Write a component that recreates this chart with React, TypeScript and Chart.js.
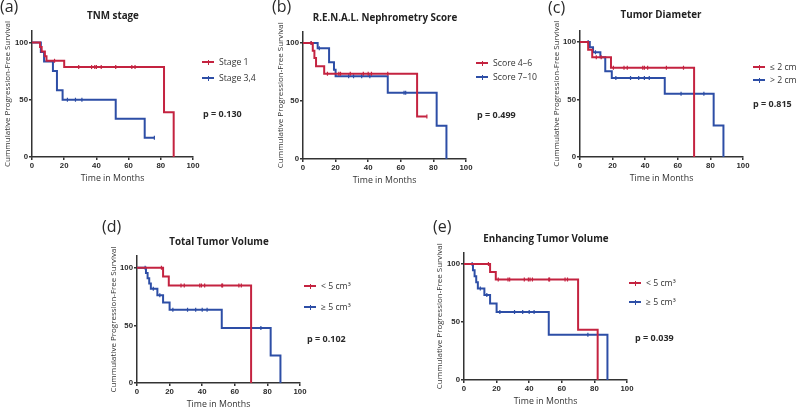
import React, { useEffect, useRef } from "react";
import { Chart, registerables } from "chart.js";
Chart.register(...registerables);

const RED = "#c42340";
const BLUE = "#2d4ea6";
const INK = "#2a2a2a";
const FONT = "'Open Sans', Lato, sans-serif";
const TICK_FONT = "'Liberation Sans', Arial, sans-serif";

const X_TITLE = "Time in Months";
const Y_TITLE = "Cummulative Progression-Free Survival";
const X_TICK_STEP = 20;
const Y_TICK_STEP = 50;

// ---------- (a) TNM stage ----------
const aStage1Time = [0, 5, 6, 8, 9, 14, 20, 29, 37, 39, 40, 43, 52, 62, 64, 82, 88];
const aStage1Surv = [100, 96, 92, 88, 84, 84, 78.5, 78.5, 78.5, 78.5, 78.5, 78.5, 78.5, 78.5, 78.5, 39, 0];
const aStage1Cens = [0, 0, 0, 0, 0, 1, 0, 1, 1, 1, 1, 1, 1, 1, 1, 0, 0];
const aStage34Time = [0, 5.5, 7.5, 13, 15.5, 19, 22, 27, 31, 52, 70, 76];
const aStage34Surv = [100, 91.7, 83.3, 75, 58.3, 50, 50, 50, 50, 33.3, 16.7, 16.7];
const aStage34Cens = [0, 0, 0, 0, 0, 0, 1, 1, 1, 0, 0, 1];

// ---------- (b) R.E.N.A.L. ----------
const bLowTime = [0, 5, 6, 7, 8, 13, 15, 22, 23, 29, 37, 40, 42, 52, 70, 76];
const bLowSurv = [100, 100, 93.4, 87.1, 80, 73.5, 73.5, 73.5, 73.5, 73.5, 73.5, 73.5, 73.5, 73.5, 36.7, 36.7];
const bLowCens = [0, 1, 0, 0, 0, 0, 1, 1, 1, 1, 1, 1, 1, 1, 0, 1];
const bHighTime = [0, 5, 9, 10, 16, 19, 20, 28, 31, 36, 41, 52, 62, 63, 82, 88];
const bHighSurv = [100, 100, 95.5, 95.5, 83.3, 77, 71.4, 71.4, 71.4, 71.4, 71.4, 57.1, 57.1, 57.1, 28.6, 0];
const bHighCens = [0, 1, 0, 1, 0, 0, 0, 1, 1, 1, 1, 0, 1, 1, 0, 0];

// ---------- (c) Tumor Diameter ----------
const cSmallTime = [0, 5, 7.5, 10, 13, 19, 20.5, 27, 29, 38.5, 39.5, 41.5, 53, 63.5, 70];
const cSmallSurv = [100, 93.3, 86.7, 86.7, 86.7, 77.7, 77.7, 77.7, 77.7, 77.7, 77.7, 77.7, 77.7, 77.7, 0];
const cSmallCens = [0, 0, 0, 1, 1, 0, 1, 1, 1, 1, 1, 1, 1, 1, 0];
const cLargeTime = [0, 5, 6, 8, 9.5, 12.5, 15.5, 19.5, 22, 31, 36, 39.5, 42.5, 52, 62, 76, 82, 88];
const cLargeSurv = [100, 100, 95.5, 91, 91, 86.7, 74.5, 68.7, 68.7, 68.7, 68.7, 68.7, 68.7, 55, 55, 55, 27.5, 0];
const cLargeCens = [0, 1, 0, 0, 1, 0, 0, 0, 1, 1, 1, 1, 1, 0, 1, 1, 0, 0];

// ---------- (d) Total Tumor Volume ----------
const dSmallTime = [0, 15, 16, 19.5, 27, 29, 38.5, 39.5, 41.5, 52, 52.5, 62.5, 64, 70];
const dSmallSurv = [100, 100, 92.3, 84.6, 84.6, 84.6, 84.6, 84.6, 84.6, 84.6, 84.6, 84.6, 84.6, 0];
const dSmallCens = [0, 1, 0, 0, 1, 1, 1, 1, 1, 1, 1, 1, 1, 0];
const dLargeTime = [0, 5, 5.5, 6.5, 7.5, 8.5, 10, 12.5, 14, 16, 20, 22, 31, 36, 40, 43, 52, 76, 82, 88];
const dLargeSurv = [100, 100, 95.5, 90.9, 86.4, 81.8, 81.8, 76.2, 76.2, 69.9, 63.6, 63.6, 63.6, 63.6, 63.6, 63.6, 47.7, 47.7, 23.8, 0];
const dLargeCens = [0, 1, 0, 0, 0, 0, 1, 0, 1, 0, 0, 1, 1, 1, 1, 1, 0, 1, 0, 0];

// ---------- (e) Enhancing Tumor Volume ----------
const eSmallTime = [0, 15, 16, 19.5, 21, 27, 28, 37, 39.5, 40.5, 42, 52, 52.5, 62, 63.5, 70, 82];
const eSmallSurv = [100, 100, 93.2, 86.6, 86.6, 86.6, 86.6, 86.6, 86.6, 86.6, 86.6, 86.6, 86.6, 86.6, 86.6, 43.3, 0];
const eSmallCens = [0, 1, 0, 0, 1, 1, 1, 1, 1, 1, 1, 1, 1, 1, 1, 0, 0];
const eLargeTime = [0, 5, 5.5, 6.5, 7.5, 8.5, 10, 12.5, 14, 16, 20, 22, 31, 36, 40, 43, 52, 76, 88];
const eLargeSurv = [100, 100, 94.7, 89.5, 84.2, 78.9, 78.9, 73.3, 73.3, 65.9, 58.6, 58.6, 58.6, 58.6, 58.6, 58.6, 39.1, 39.1, 0];
const eLargeCens = [0, 1, 0, 0, 0, 0, 1, 0, 1, 0, 0, 1, 1, 1, 1, 1, 0, 1, 0];

type Series = { label: string; color: string; time: number[]; surv: number[]; cens: number[] };
type Box = { plotLeft: number; plotRight: number; plotTop: number; plotBottom: number; yTitleX: number; xTitleY: number };
type Panel = {
  tag: string; tagX: number; tagY: number;
  title: string; titleX: number; titleY: number;
  legendX: number; legendY: number[];
  p: string; pX: number; pY: number;
  box: Box; series: Series[];
};

const panels: Panel[] = [
  {
    tag: "(a)", tagX: 0, tagY: 6, title: "TNM stage", titleX: 113, titleY: 15,
    legendX: 202, legendY: [62, 78], p: "p = 0.130", pX: 203, pY: 113,
    box: { plotLeft: 32, plotRight: 193, plotTop: 31, plotBottom: 157, yTitleX: 7.5, xTitleY: 178 },
    series: [
      { label: "Stage 1", color: RED, time: aStage1Time, surv: aStage1Surv, cens: aStage1Cens },
      { label: "Stage 3,4", color: BLUE, time: aStage34Time, surv: aStage34Surv, cens: aStage34Cens },
    ],
  },
  {
    tag: "(b)", tagX: 272, tagY: 6, title: "R.E.N.A.L. Nephrometry Score", titleX: 385, titleY: 16.5,
    legendX: 476, legendY: [63, 77], p: "p = 0.499", pX: 477, pY: 114,
    box: { plotLeft: 303, plotRight: 466, plotTop: 31.4, plotBottom: 159, yTitleX: 281, xTitleY: 180 },
    series: [
      { label: "Score 4–6", color: RED, time: bLowTime, surv: bLowSurv, cens: bLowCens },
      { label: "Score 7–10", color: BLUE, time: bHighTime, surv: bHighSurv, cens: bHighCens },
    ],
  },
  {
    tag: "(c)", tagX: 548, tagY: 7, title: "Tumor Diameter", titleX: 661, titleY: 14,
    legendX: 753, legendY: [67, 80], p: "p = 0.815", pX: 753, pY: 103,
    box: { plotLeft: 580, plotRight: 743, plotTop: 30.5, plotBottom: 157, yTitleX: 557, xTitleY: 178 },
    series: [
      { label: "≤ 2 cm", color: RED, time: cSmallTime, surv: cSmallSurv, cens: cSmallCens },
      { label: "> 2 cm", color: BLUE, time: cLargeTime, surv: cLargeSurv, cens: cLargeCens },
    ],
  },
  {
    tag: "(d)", tagX: 102, tagY: 226, title: "Total Tumor Volume", titleX: 219, titleY: 241,
    legendX: 304, legendY: [286, 307], p: "p = 0.102", pX: 307, pY: 338,
    box: { plotLeft: 137, plotRight: 300, plotTop: 256.2, plotBottom: 383, yTitleX: 113.5, xTitleY: 404 },
    series: [
      { label: "<  5 cm³", color: RED, time: dSmallTime, surv: dSmallSurv, cens: dSmallCens },
      { label: "≥  5 cm³", color: BLUE, time: dLargeTime, surv: dLargeSurv, cens: dLargeCens },
    ],
  },
  {
    tag: "(e)", tagX: 433, tagY: 226, title: "Enhancing Tumor Volume", titleX: 546, titleY: 238,
    legendX: 629, legendY: [283, 302], p: "p = 0.039", pX: 635, pY: 337,
    box: { plotLeft: 464, plotRight: 627, plotTop: 252.4, plotBottom: 380, yTitleX: 440, xTitleY: 401 },
    series: [
      { label: "<  5 cm³", color: RED, time: eSmallTime, surv: eSmallSurv, cens: eSmallCens },
      { label: "≥  5 cm³", color: BLUE, time: eLargeTime, surv: eLargeSurv, cens: eLargeCens },
    ],
  },
];

const Y_TITLE_SIZE = 8.0;
const X_TITLE_SIZE = 8.8;
const TICK_SIZE = 7.8;

function geometry(b: Box) {
  const yLH = Y_TITLE_SIZE * 1.2;
  const xLH = X_TITLE_SIZE * 1.2;
  const yScaleLeft = b.yTitleX - yLH / 2;
  const xScaleBottom = b.xTitleY + xLH / 2;
  const left = Math.floor(yScaleLeft - 2);
  const top = Math.max(0, Math.floor(b.plotTop - 28));
  const right = Math.ceil(b.plotRight + 14);
  const bottom = Math.ceil(xScaleBottom + 1);
  return {
    left, top, width: right - left, height: bottom - top,
    padL: yScaleLeft - left, padT: b.plotTop - top, padR: right - b.plotRight, padB: bottom - xScaleBottom,
    yW: b.plotLeft - yScaleLeft, xH: xScaleBottom - b.plotBottom,
  };
}

function KMChart({ panel }: { panel: Panel }) {
  const ref = useRef<HTMLCanvasElement>(null);
  const g = geometry(panel.box);
  useEffect(() => {
    if (!ref.current) return;
    const tickFont = { size: TICK_SIZE, weight: "bold" as const, family: TICK_FONT };
    const gridOpts = { display: true, drawOnChartArea: false, drawTicks: true, tickLength: 3, color: "#333", lineWidth: 1.5 };
    const chart = new Chart(ref.current, {
      type: "line",
      data: {
        datasets: panel.series.map((s) => ({
          label: s.label,
          data: s.time.map((t, i) => ({ x: t, y: s.surv[i] })),
          borderColor: s.color,
          backgroundColor: s.color,
          borderWidth: 2,
          stepped: true,
          fill: false,
          pointStyle: "line",
          rotation: 90,
          pointRadius: s.cens.map((c) => (c ? 2 : 0)),
          pointBorderWidth: 1.2,
          pointBorderColor: s.color,
          pointHoverRadius: 0,
          pointHitRadius: 0,
        })),
      },
      options: {
        animation: false,
        responsive: false,
        maintainAspectRatio: false,
        events: [],
        layout: { padding: { left: g.padL, top: g.padT, right: g.padR, bottom: g.padB } },
        plugins: { legend: { display: false }, tooltip: { enabled: false }, title: { display: false } },
        scales: {
          x: {
            type: "linear",
            min: 0,
            max: 100,
            ticks: { stepSize: X_TICK_STEP, font: tickFont, color: INK, padding: 1, maxRotation: 0, includeBounds: false },
            grid: gridOpts,
            border: { display: true, color: "#333", width: 1.5 },
            title: { display: true, text: X_TITLE, font: { size: X_TITLE_SIZE, family: FONT }, color: "#333", padding: 0 },
            afterFit: (s: any) => { s.height = g.xH; },
          },
          y: {
            type: "linear",
            min: 0,
            max: 110,
            ticks: { stepSize: Y_TICK_STEP, font: tickFont, color: INK, padding: 1, includeBounds: false },
            grid: gridOpts,
            border: { display: true, color: "#333", width: 1.5 },
            title: { display: true, text: Y_TITLE, font: { size: Y_TITLE_SIZE, family: FONT }, color: "#333", padding: 0 },
            afterFit: (s: any) => { s.width = g.yW; },
          },
        },
      } as any,
    });
    return () => chart.destroy();
  }, []);
  return (
    <canvas
      ref={ref}
      width={g.width}
      height={g.height}
      style={{ position: "absolute", left: g.left, top: g.top, width: g.width, height: g.height }}
    />
  );
}

function Overlay({ panel }: { panel: Panel }) {
  const abs: React.CSSProperties = { position: "absolute", whiteSpace: "nowrap", lineHeight: 1 };
  return (
    <>
      <div style={{ ...abs, left: panel.tagX, top: panel.tagY, transform: "translateY(-50%)", font: `16px ${FONT}`, color: INK }}>
        {panel.tag}
      </div>
      <div style={{ ...abs, left: panel.titleX, top: panel.titleY, transform: "translate(-50%,-50%)", font: `bold 9.8px ${FONT}`, color: "#222" }}>
        {panel.title}
      </div>
      {panel.series.map((s, i) => (
        <div key={i} style={{ ...abs, left: panel.legendX, top: panel.legendY[i], transform: "translateY(-50%)", display: "flex", alignItems: "center" }}>
          <div style={{ position: "relative", width: 12, height: 2, background: s.color }}>
            <div style={{ position: "absolute", left: 5.5, top: -1.5, width: 1.2, height: 5, background: s.color }} />
          </div>
          <span style={{ marginLeft: 5, font: `8.7px ${FONT}`, color: "#333" }}>{s.label}</span>
        </div>
      ))}
      <div style={{ ...abs, left: panel.pX, top: panel.pY, transform: "translateY(-50%)", font: `bold 9px ${FONT}`, color: INK }}>
        {panel.p}
      </div>
    </>
  );
}

export default function App() {
  return (
    <div style={{ position: "fixed", left: 0, top: 0, width: 800, height: 408, background: "#fff", overflow: "hidden" }}>
      {panels.map((p, i) => (
        <KMChart key={"c" + i} panel={p} />
      ))}
      {panels.map((p, i) => (
        <Overlay key={"o" + i} panel={p} />
      ))}
    </div>
  );
}
